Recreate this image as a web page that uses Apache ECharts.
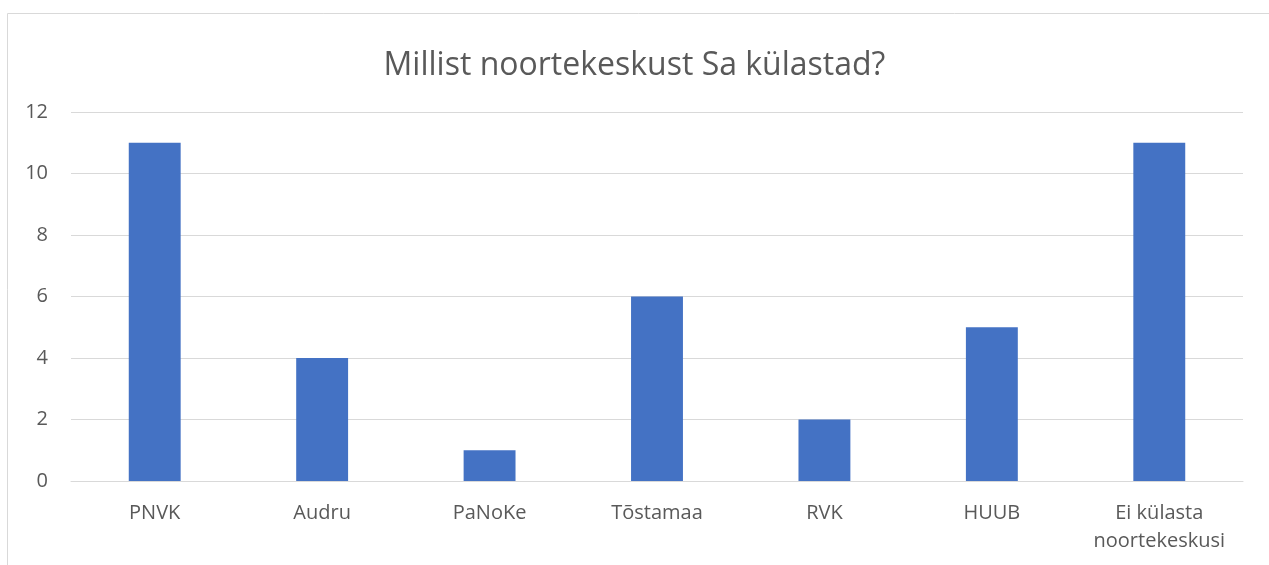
<!DOCTYPE html>
<html><head><meta charset="utf-8">
<script src="https://cdn.jsdelivr.net/npm/echarts@6/dist/echarts.min.js"></script>
<style>html,body{margin:0;padding:0;background:#fff}#c{width:1269px;height:565px}</style>
</head><body><div id="c"></div>
<script>
const categories = ["PNVK", "Audru", "PaNoKe", "Tõstamaa", "RVK", "HUUB", "Ei külasta\nnoortekeskusi"];
const values = [11, 4, 1, 6, 2, 5, 11];
const titleText = "Millist noortekeskust Sa külastad?";
const FONT = "Open Sans";
const chart = echarts.init(document.getElementById('c'));
chart.setOption({
  animation: false,
  textStyle: {fontFamily: FONT},
  title: {text: titleText, left: 'center', top: 45,
    textStyle: {fontFamily: FONT, fontSize: 32, fontWeight: 'normal', color: '#595959'}},
  graphic: [{type: 'rect', shape: {x: 7.5, y: 13.5, width: 1400, height: 700},
    style: {fill: 'none', stroke: '#d9d9d9', lineWidth: 1}}],
  grid: {left: 71, right: 26, top: 112, bottom: 84, containLabel: false},
  xAxis: {type: 'category', data: categories,
    axisLine: {lineStyle: {color: '#d9d9d9', width: 1}},
    axisTick: {show: false},
    axisLabel: {color: '#595959', fontSize: 20, fontFamily: FONT, margin: 18, lineHeight: 28, interval: 0}},
  yAxis: {type: 'value', min: 0, max: 12, interval: 2,
    axisLine: {show: false}, axisTick: {show: false},
    axisLabel: {color: '#595959', fontSize: 20, fontFamily: FONT, margin: 23},
    splitLine: {lineStyle: {color: '#d9d9d9', width: 1}}},
  series: [{type: 'bar', data: values, barWidth: '31%',
    itemStyle: {color: '#4472c4'}}]
});
</script></body></html>
